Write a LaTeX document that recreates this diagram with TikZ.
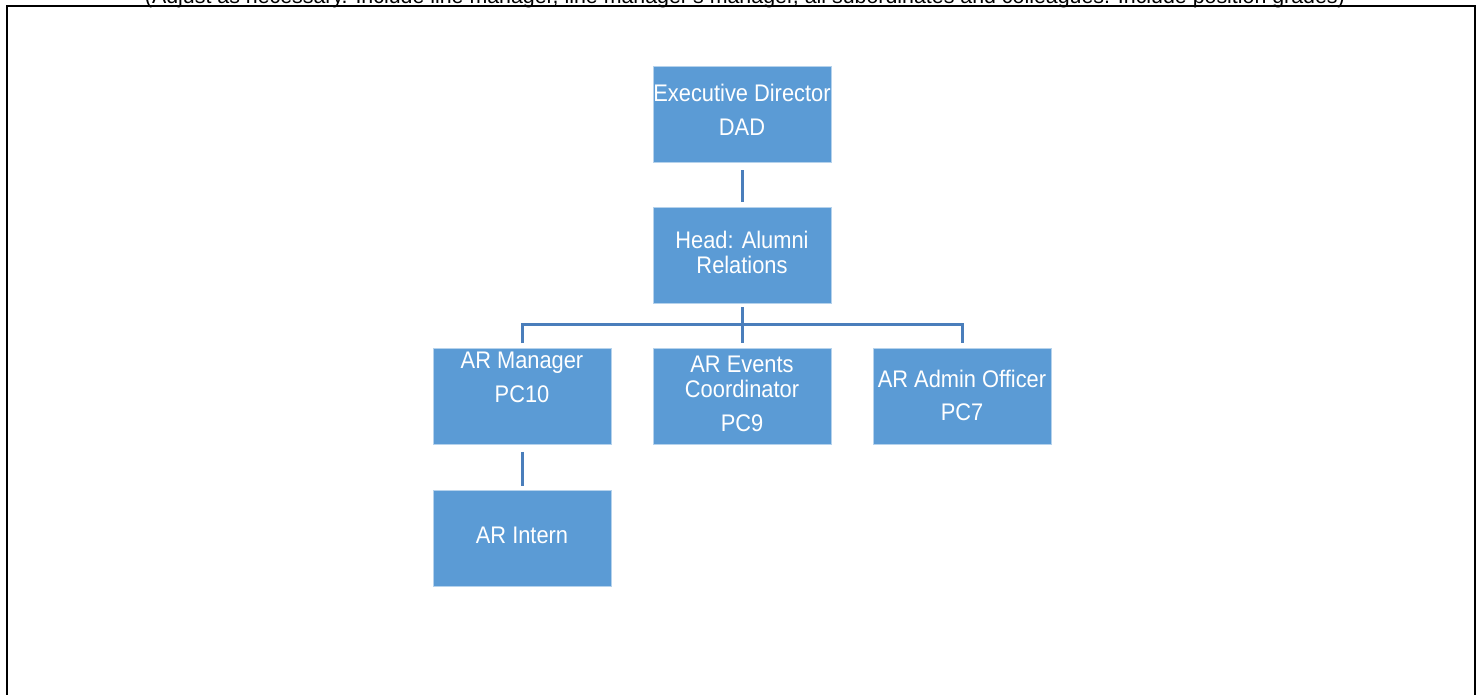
\documentclass[tikz,border=0pt]{standalone}
\usepackage{fontspec}
\setmainfont{Liberation Sans}
\newfontfamily\boxfont[FakeStretch=0.91]{Liberation Sans}
\usetikzlibrary{calc}
\definecolor{boxblue}{HTML}{5B9BD5}
\definecolor{linkblue}{HTML}{4A7EBB}
\newcommand\padd[1]{\rule[-#1]{0pt}{#1}}
\begin{document}
\begin{tikzpicture}[x=1pt,y=-1pt,
  box/.style={rectangle, fill=boxblue, draw=white!55!boxblue, line width=0.8pt,
    minimum width=178pt, minimum height=96pt, inner sep=0pt, align=center,
    text=white, font=\boxfont\fontsize{24}{25}\selectfont},
  link/.style={draw=linkblue, line width=3pt},
  frame/.style={draw=black, line width=1.7pt}]
\useasboundingbox (0,0) rectangle (1483,695);
\clip (0,0) rectangle (1483,695);
\fill[white] (0,0) rectangle (1483,695);

% note at the top (cut off by the page edge)
\node[anchor=base, inner sep=0pt] (note) at (745,4)
  {\resizebox{1200pt}{!}{(Adjust as necessary. Include line manager, line manager's manager, all subordinates and colleagues. Include position grades)}};

% frame
\draw[frame] (7,700) -- (7,5.8) -- (1475,5.8) -- (1475,700);

% boxes
\node[box] (exec)   at (742,114)   {Executive Director\\[9.3pt]DAD\padd{9pt}};
\node[box] (head)   at (742,255)   {Head: Alumni\\Relations\padd{6pt}};
\node[box] (mgr)    at (522,396.5) {AR Manager\\[9pt]PC10\padd{38pt}};
\node[box] (evt)    at (742,396.5) {AR Events\\Coordinator\\[9pt]PC9\padd{6pt}};
\node[box] (adm)    at (962,396.5) {AR Admin Officer\\[8pt]PC7\padd{3pt}};
\node[box] (intern) at (522,538.5) {AR Intern\padd{6pt}};

% connectors
\coordinate (bus) at (742,325);
\draw[link] ($(exec.south)+(0,8)$) -- ($(head.north)+(0,-5)$);
\draw[link] ($(head.south)+(0,4)$) -- (bus);
\draw[link] ($(mgr.north)+(0,-5)$) |- ($(adm.north)+(0,-23.5)$) -- ($(adm.north)+(0,-5)$);
\draw[link] (bus) -- ($(evt.north)+(0,-5)$);
\draw[link] ($(mgr.south)+(0,7)$) -- ($(intern.north)+(0,-4)$);
\end{tikzpicture}
\end{document}
